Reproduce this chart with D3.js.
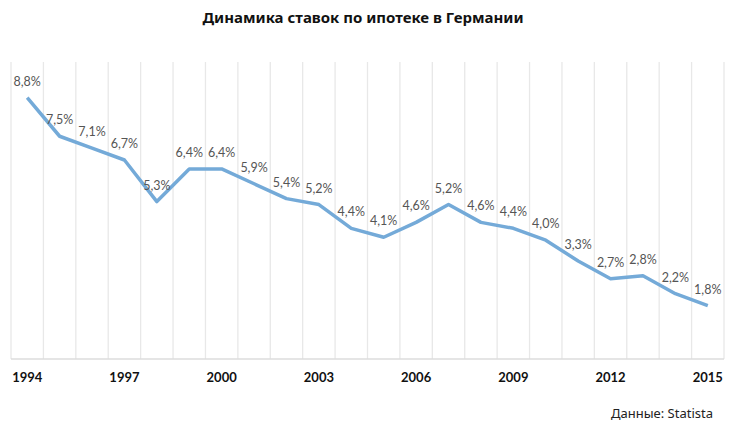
<!DOCTYPE html>
<html lang="ru">
<head>
  <meta charset="UTF-8">
  <title>Динамика ставок по ипотеке в Германии</title>
  <script src="https://d3js.org/d3.v7.min.js"></script>
  <style>
    body { margin: 0; background: #fff; }
    svg { display: block; }
  </style>
</head>
<body>
<svg></svg>
<script>
  // данные: годы и ставки (%)
  const years = [1994, 1995, 1996, 1997, 1998, 1999, 2000, 2001, 2002, 2003, 2004,
    2005, 2006, 2007, 2008, 2009, 2010, 2011, 2012, 2013, 2014, 2015]
  const rates = [8.8, 7.5, 7.1, 6.7, 5.3, 6.4, 6.4, 5.9, 5.4, 5.2, 4.4,
    4.1, 4.6, 5.2, 4.6, 4.4, 4.0, 3.3, 2.7, 2.8, 2.2, 1.8]
  const tickYears = [1994, 1997, 2000, 2003, 2006, 2009, 2012, 2015]
  const title = 'Динамика ставок по ипотеке в Германии'
  const source = 'Данные: Statista'

  const width = 735
  const height = 429
  const margin = { top: 62, right: 11, bottom: 70, left: 11 }

  const data = years.map((y, i) => ({ year: y, rate: rates[i] }))

  const svg = d3.select('svg')
    .attr('width', width)
    .attr('height', height)

  const x = d3.scaleBand()
    .domain(years)
    .range([margin.left, width - margin.right])

  const y = d3.scaleLinear()
    .domain([0, 10])
    .range([height - margin.bottom, margin.top])

  // вертикальная сетка по границам категорий
  const edges = years.map(d => x(d)).concat([x(years[years.length - 1]) + x.bandwidth()])
  svg.append('g')
    .selectAll('line')
    .data(edges)
    .join('line')
    .attr('x1', d => d)
    .attr('x2', d => d)
    .attr('y1', y(10))
    .attr('y2', y(0))
    .attr('stroke', '#e8e8e8')
    .attr('stroke-width', 1.3)

  // базовая линия
  svg.append('line')
    .attr('x1', margin.left)
    .attr('x2', width - margin.right)
    .attr('y1', y(0))
    .attr('y2', y(0))
    .attr('stroke', '#dcdcdc')
    .attr('stroke-width', 1.3)

  // подписи оси X
  const xAxis = d3.axisBottom(x)
    .tickValues(tickYears)
    .tickSize(0)
    .tickPadding(0)

  const ax = svg.append('g')
    .attr('transform', `translate(0, ${y(0)})`)
    .call(xAxis)
  ax.select('.domain').remove()
  ax.selectAll('text')
    .attr('dy', 0)
    .attr('y', 23)
    .attr('fill', '#111')
    .style('font-family', 'Lato, "Open Sans", sans-serif')
    .style('font-weight', 'bold')
    .style('font-size', '13px')

  // линия
  const line = d3.line()
    .x(d => x(d.year) + x.bandwidth() / 2)
    .y(d => y(d.rate))

  svg.append('path')
    .datum(data)
    .attr('fill', 'none')
    .attr('stroke', '#74aad8')
    .attr('stroke-width', 3.5)
    .attr('stroke-linejoin', 'round')
    .attr('d', line)

  // подписи значений
  svg.append('g')
    .selectAll('text')
    .data(data)
    .join('text')
    .attr('x', d => x(d.year) + x.bandwidth() / 2)
    .attr('y', d => y(d.rate) - 12)
    .attr('text-anchor', 'middle')
    .attr('fill', '#555')
    .style('font-family', 'Lato, "Open Sans", sans-serif')
    .style('font-size', '12.5px')
    .text(d => d3.format('.1f')(d.rate).replace('.', ',') + '%')

  // заголовок
  svg.append('text')
    .attr('x', 363)
    .attr('y', 23)
    .attr('text-anchor', 'middle')
    .attr('fill', '#111')
    .style('font-family', '"Noto Sans", sans-serif')
    .style('font-weight', 'bold')
    .style('font-size', '15px')
    .text(title)

  // источник
  svg.append('text')
    .attr('x', width - 22)
    .attr('y', 418)
    .attr('text-anchor', 'end')
    .attr('fill', '#222')
    .style('font-family', '"Noto Sans", sans-serif')
    .style('font-size', '13px')
    .text(source)
</script>
</body>
</html>
